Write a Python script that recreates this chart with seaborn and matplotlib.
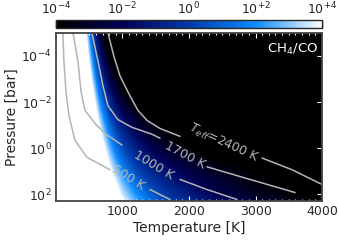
import numpy as np
import matplotlib
matplotlib.use('Agg')
import matplotlib.pyplot as plt
import seaborn as sns
from matplotlib.colors import LinearSegmentedColormap, Normalize
from matplotlib.cm import ScalarMappable
from matplotlib.ticker import MultipleLocator, NullLocator

# grid of log10(CH4/CO) (clipped, beyond +-4 is white/black anyway)
temps = [0, 300, 400, 450, 500, 550, 600, 650, 700, 800, 900, 1000,
         1200, 1400, 1700, 2000, 2500, 3000, 3500, 4000]
pressures = [1e-5, 1e-4, 1e-3, 1e-2, 1e-1, 1, 10, 100, 200]
log_ratio = [
    [5, 5, 5, 3.8, 1.7, 0.0, -1.5, -2.7, -3.8, -5, -5, -5, -5, -5, -5, -5, -5, -5, -5, -5],
    [5, 5, 5, 5, 3.3, 1.6, 0.1, -1.1, -2.2, -3.8, -5, -5, -5, -5, -5, -5, -5, -5, -5, -5],
    [5, 5, 5, 5, 4.9, 3.1, 1.7, 0.5, -0.6, -2.2, -3.5, -4.6, -5, -5, -5, -5, -5, -5, -5, -5],
    [5, 5, 5, 5, 5, 4.8, 3.4, 2.1, 1.1, -0.6, -1.8, -2.9, -4.4, -5, -5, -5, -5, -5, -5, -5],
    [5, 5, 5, 5, 5, 5, 5, 3.8, 2.8, 1.1, -0.2, -1.1, -2.5, -3.5, -4.5, -5, -5, -5, -5, -5],
    [5, 5, 5, 5, 5, 5, 5, 5, 4.4, 2.7, 1.4, 0.4, -1.0, -2.0, -3.1, -3.9, -4.8, -5, -5, -5],
    [5, 5, 5, 5, 5, 5, 5, 5, 5, 4.3, 3.0, 1.9, 0.4, -0.6, -1.6, -2.4, -3.4, -4.1, -4.6, -5],
    [5, 5, 5, 5, 5, 5, 5, 5, 5, 5, 4.6, 3.5, 2.0, 0.9, -0.3, -1.1, -2.3, -3.2, -3.9, -4.5],
    [5, 5, 5, 5, 5, 5, 5, 5, 5, 5, 5, 4.0, 2.5, 1.4, 0.2, -0.6, -1.9, -2.8, -3.5, -4.0],
]

# P-T profiles for the four effective temperatures
prof_500_T = [105, 120, 150, 196, 286, 466, 812, 1414, 1715]
prof_500_P = [1e-5, 1.7e-4, 3.3e-3, 0.039, 0.46, 2.5, 8.7, 63, 170]
prof_1000_T = [256, 331, 376, 436, 587, 737, 993, 1865, 2271, 2722]
prof_1000_P = [1e-5, 1.7e-4, 3.3e-3, 0.023, 0.085, 0.23, 0.74, 23, 63, 170]
prof_1700_T = [541, 632, 707, 782, 932, 1143, 1444, 1564, 2271, 2918, 3595]
prof_1700_P = [1e-5, 1.7e-4, 2.0e-3, 0.0145, 0.058, 0.126, 0.25, 0.37, 6.5, 23, 85]
prof_2400_T = [782, 872, 963, 1113, 1233, 1369, 1564, 1865, 3098, 3549, 4000]
prof_2400_P = [1e-5, 1.05e-4, 7.4e-4, 5.4e-3, 0.023, 0.063, 0.14, 0.31, 2.7, 8.7, 38]

profile_labels = ['500 K', '1000 K', '1700 K', '$T_{eff}$=2400 K']
cbar_labels = ['10$^{-4}$', '10$^{-2}$', '10$^{0}$', '10$^{+2}$', '10$^{+4}$']
ytick_vals = [1e-4, 1e-2, 1, 1e2]
ytick_labels = ['10$^{-4}$', '10$^{-2}$', '10$^{0}$', '10$^{2}$']

sns.set_style('ticks')
plt.rcParams['font.family'] = ['DejaVu Sans']

fig = plt.figure(figsize=(3.39, 2.42), dpi=100)
rect = [0.165, 0.169, 0.785, 0.695]
# field lives on its own axes with log10(P) as a linear coordinate,
# so the filled contours interpolate in log pressure
axf = fig.add_axes(rect, zorder=0)
ax = fig.add_axes(rect, zorder=1)
ax.patch.set_alpha(0)
cax = fig.add_axes([0.165, 0.884, 0.785, 0.033])

cmap = LinearSegmentedColormap.from_list('ch4co', [
    (0.0, (0, 0, 0)), (0.25, (0.0, 0.0, 0.33)), (0.5, (0.0, 0.22, 0.66)),
    (0.75, (0.05, 0.55, 1.0)), (1.0, (1, 1, 1))])

axf.contourf(temps, np.log10(pressures), np.array(log_ratio),
             levels=np.linspace(-4, 4, 97), cmap=cmap, extend='both')
axf.set_xlim(0, 4000)
axf.set_ylim(np.log10(200), -5)
axf.axis('off')

ax.set_yscale('log')
ax.set_xlim(0, 4000)
ax.set_ylim(200, 1e-5)

line_col = '#b4b4b4'
profiles = [(prof_500_T, prof_500_P, (812, 1414), (1083, 19), -32),
            (prof_1000_T, prof_1000_P, (993, 1865), (1474, 5.4), -31),
            (prof_1700_T, prof_1700_P, (1564, 2271), (1940, 2.0), -28),
            (prof_2400_T, prof_2400_P, (1865, 3098), (2527, 0.61), -25)]
for (T, P, gap, pos, rot), lab in zip(profiles, profile_labels):
    T = np.array(T)
    P = np.array(P)
    for m in (T <= gap[0], T >= gap[1]):
        sns.lineplot(x=T[m], y=P[m], ax=ax, sort=False, estimator=None,
                     color=line_col, lw=1.1)
    ax.text(pos[0], pos[1], lab, rotation=rot, color=line_col, fontsize=9,
            ha='center', va='center', rotation_mode='anchor')

ax.text(0.985, 0.9, 'CH$_4$/CO', transform=ax.transAxes, color='white',
        fontsize=9.5, ha='right', va='center')

ax.set_xticks([1000, 2000, 3000, 4000])
ax.xaxis.set_minor_locator(MultipleLocator(100))
ax.set_yticks(ytick_vals)
ax.set_yticklabels(ytick_labels)
ax.yaxis.set_minor_locator(NullLocator())
ax.tick_params(which='both', direction='in', top=True, right=True,
               color='white', labelsize=9, pad=3)
ax.tick_params(which='major', length=3.5, width=0.8)
ax.tick_params(which='minor', length=1.5, width=0.8)
ax.set_xlabel('Temperature [K]', fontsize=10, labelpad=2)
ax.set_ylabel('Pressure [bar]', fontsize=10, labelpad=2)
for s in ax.spines.values():
    s.set_color('#444444')
    s.set_linewidth(1.3)

cb = fig.colorbar(ScalarMappable(norm=Normalize(-4, 4), cmap=cmap), cax=cax,
                  orientation='horizontal', ticks=[-4, -2, 0, 2, 4])
cax.xaxis.set_ticks_position('top')
cax.set_xticklabels(cbar_labels)
cax.tick_params(axis='x', direction='in', length=6, width=1, color='black',
                labelsize=9, pad=2)
cb.outline.set_linewidth(1)

fig.savefig('out.png', dpi=100)
